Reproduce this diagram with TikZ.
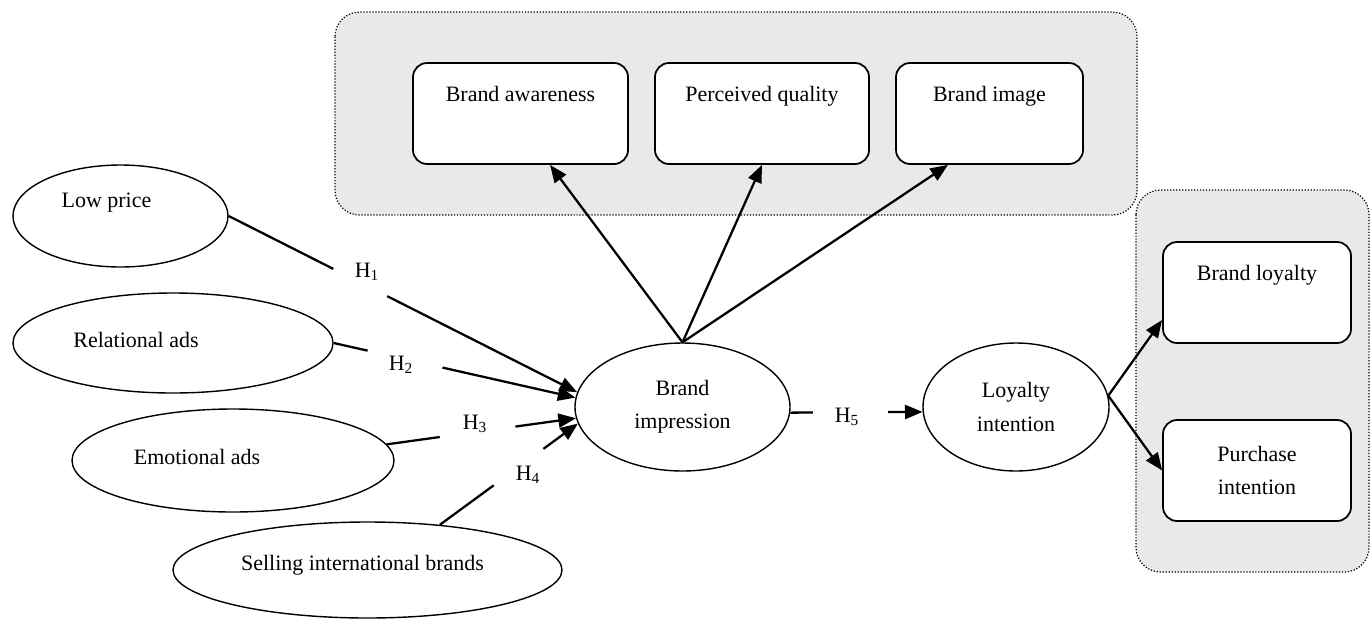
\documentclass[tikz,border=0pt]{standalone}
\usepackage{fontspec}
\setmainfont{Liberation Serif}
\usetikzlibrary{arrows.meta,calc,shapes.geometric}
\tikzset{box/.style={draw, line width=1pt, rounded corners=8pt, fill=white, minimum width=4.3cm, minimum height=2.02cm},
  hbox/.style={box, text depth=0.8cm},
  oval/.style={draw, ellipse, line width=0.8pt, fill=white, inner sep=0pt},
  grp/.style={draw, densely dotted, line width=0.7pt, rounded corners=14pt, fill=gray!17},
  pin/.style={-{Triangle[length=10pt, width=8pt]}, line width=1.3pt},
  hyp/.style={inner sep=0pt}}

\begin{document}
\begin{tikzpicture}[font=\fontsize{12.5}{19}\selectfont]
  \useasboundingbox (0,0) rectangle (27.42,-12.38);
  % grouping panels
  \draw[grp] (6.70,-0.24) rectangle (22.74,-4.30);
  \draw[grp] (22.72,-3.80) rectangle (27.38,-11.44);
  % outcome boxes
  \node[hbox] (ba) at (10.41,-2.27) {Brand awareness};
  \node[hbox, minimum width=4.28cm] (pq) at (15.24,-2.27) {Perceived quality};
  \node[hbox, minimum width=3.74cm] (bim) at (19.79,-2.27) {Brand image};
  \node[hbox, minimum width=3.76cm] (bl) at (25.14,-5.85) {Brand loyalty};
  \node[box, minimum width=3.76cm, align=center] (pi) at (25.14,-9.41) {Purchase\\intention};
  % antecedents
  \node[oval, minimum width=4.30cm, minimum height=2.04cm, label={[xshift=-0.28cm, yshift=0.26cm]center:Low price}] (lp) at (2.41,-4.32) {};
  \node[oval, minimum width=6.40cm, minimum height=2.00cm, label={[xshift=-0.74cm, yshift=0.06cm]center:Relational ads}] (rel) at (3.46,-6.86) {};
  \node[oval, minimum width=6.44cm, minimum height=2.06cm, label={[xshift=-0.72cm, yshift=0.07cm]center:Emotional ads}] (emo) at (4.66,-9.21) {};
  \node[oval, minimum width=7.78cm, minimum height=1.92cm, label={[xshift=-0.10cm, yshift=0.10cm]center:Selling international brands}] (sel) at (7.35,-11.40) {};
  % mediator and result
  \node[oval, minimum width=4.30cm, minimum height=2.56cm, align=center] (bi) at (13.65,-8.14) {Brand\\impression};
  \node[oval, minimum width=3.72cm, minimum height=2.56cm, align=center] (li) at (20.32,-8.14) {Loyalty\\intention};
  % hypothesis labels
  \node[hyp] (h1) at (7.34,-5.44) {H\textsubscript{1}};
  \node[hyp] (h2) at (8.02,-7.30) {H\textsubscript{2}};
  \node[hyp] (h3) at (9.50,-8.48) {H\textsubscript{3}};
  \node[hyp] (h4) at (10.56,-9.50) {H\textsubscript{4}};
  \node[hyp] (h5) at (16.94,-8.34) {H\textsubscript{5}};
  % hypothesis paths, broken where the label sits
  \foreach \s/\t/\a/\b in {lp.east/bi.172/0.30/0.455, rel.east/bi.175/0.14/0.45,
      emo.6/bi.186/0.28/0.68, sel.32/bi.189/0.39/0.75, bi.-3/li.183/0.17/0.74}
    \draw[pin] (\s) -- ($(\s)!\a!(\t)$) ($(\s)!\b!(\t)$) -- (\t);
  % brand impression dimensions
  \draw[pin] (bi.north) -- ([xshift=0.59cm]ba.south);
  \draw[pin] (bi.north) -- (pq.south);
  \draw[pin] (bi.north) -- ([xshift=-0.83cm]bim.south);
  % loyalty outcomes
  \draw[pin] (li.7) -- ([yshift=-0.55cm]bl.west);
  \draw[pin] (li.7) -- (pi.west);
\end{tikzpicture}
\end{document}
